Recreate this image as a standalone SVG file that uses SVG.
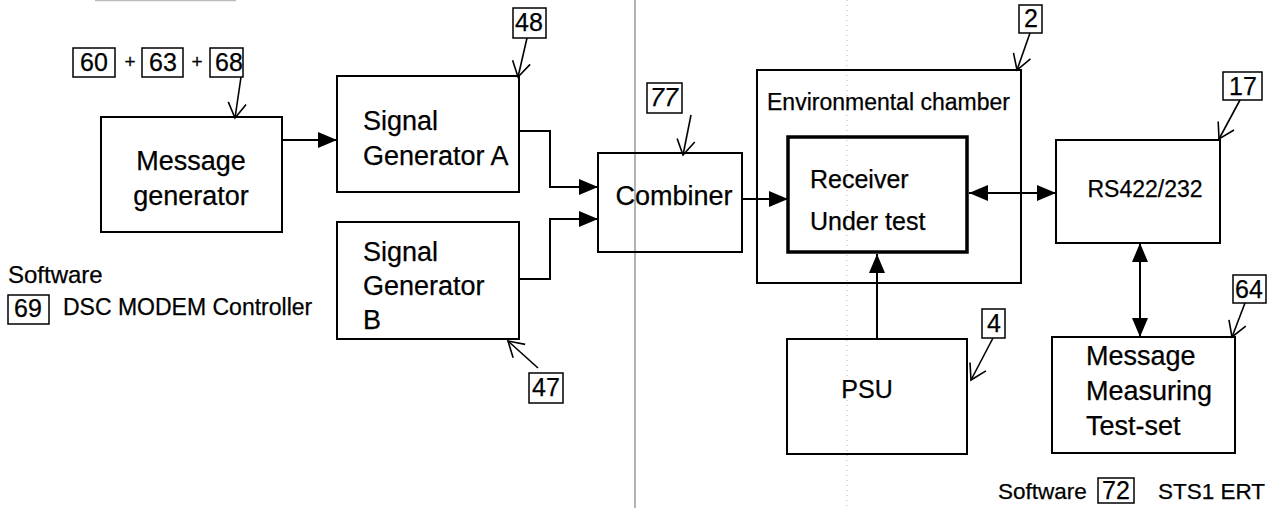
<svg xmlns="http://www.w3.org/2000/svg" width="1273" height="508" viewBox="0 0 1273 508">
  <style>
    .box { fill: none; stroke: #000; stroke-width: 2; }
    .thick { fill: none; stroke: #000; stroke-width: 3.5; }
    .ref { fill: none; stroke: #000; stroke-width: 1.5; }
    .lbl { font-family: "Liberation Sans", Arial, sans-serif; fill: #000; stroke: #000; stroke-width: 0.25; }
    .num { font-family: "Liberation Sans", Arial, sans-serif; font-size: 25px; fill: #000; stroke: #000; stroke-width: 0.25; text-anchor: middle; }
    .wire { fill: none; stroke: #000; stroke-width: 2; }
    .ptr { fill: none; stroke: #000; stroke-width: 1.6; }
  </style>
  <defs>
    <marker id="solid" markerUnits="userSpaceOnUse" markerWidth="22" markerHeight="18" refX="19" refY="8" orient="auto-start-reverse">
      <path d="M0,0 L19,8 L0,16 Z" fill="#000"/>
    </marker>
    <marker id="open" markerUnits="userSpaceOnUse" markerWidth="20" markerHeight="22" refX="16" refY="10" orient="auto">
      <path d="M1,1 L16,10 L1,19" fill="none" stroke="#000" stroke-width="1.6"/>
    </marker>
  </defs>

  <rect width="1273" height="508" fill="#fff"/>

  <!-- page marks -->
  <line x1="95" y1="0.5" x2="236" y2="0.5" stroke="#bbb" stroke-width="1.5"/>
  <line x1="635" y1="0" x2="635" y2="508" stroke="#9a9a9a" stroke-width="1.5"/>
  <line x1="847" y1="0" x2="847" y2="508" stroke="#bbb" stroke-width="1" stroke-dasharray="1 4"/>

  <!-- reference numbers 60 + 63 + 68 -->
  <g id="refs-msg">
    <rect class="ref" x="73" y="48" width="42" height="29"/>
    <text class="num" x="94" y="71">60</text>
    <text class="lbl" x="130" y="68" font-size="19" text-anchor="middle">+</text>
    <rect class="ref" x="142" y="48" width="41" height="29"/>
    <text class="num" x="163" y="71">63</text>
    <text class="lbl" x="197" y="68" font-size="19" text-anchor="middle">+</text>
    <rect class="ref" x="210" y="48" width="33" height="29"/>
    <text class="num" x="229" y="71">68</text>
  </g>

  <g id="message-generator">
    <rect class="box" x="101" y="117" width="181" height="115"/>
    <text class="lbl" x="191" y="170" font-size="27" text-anchor="middle">Message</text>
    <text class="lbl" x="191" y="205" font-size="27" text-anchor="middle">generator</text>
  </g>

  <g id="signal-generator-a">
    <rect class="box" x="337" y="76" width="182" height="116"/>
    <text class="lbl" x="363" y="130" font-size="27">Signal</text>
    <text class="lbl" x="363" y="165" font-size="27">Generator A</text>
    <rect class="ref" x="513" y="8" width="33" height="30"/>
    <text class="num" x="529" y="31">48</text>
  </g>

  <g id="signal-generator-b">
    <rect class="box" x="337" y="222" width="182" height="117"/>
    <text class="lbl" x="363" y="261" font-size="27">Signal</text>
    <text class="lbl" x="363" y="295" font-size="27">Generator</text>
    <text class="lbl" x="363" y="329" font-size="27">B</text>
    <rect class="ref" x="529" y="373" width="34" height="30"/>
    <text class="num" x="546" y="396">47</text>
  </g>

  <g id="combiner">
    <rect class="box" x="598" y="153" width="144" height="99"/>
    <text class="lbl" x="674" y="205" font-size="27" text-anchor="middle">Combiner</text>
    <rect class="ref" x="647" y="83" width="35" height="30"/>
    <text class="num" x="664" y="106" font-style="italic">77</text>
  </g>

  <g id="environmental-chamber">
    <rect class="box" x="757" y="70" width="264" height="213"/>
    <text class="lbl" x="767" y="110" font-size="23">Environmental chamber</text>
    <rect class="ref" x="1019" y="5" width="23" height="28"/>
    <text class="num" x="1031" y="27">2</text>
  </g>

  <g id="receiver">
    <rect class="thick" x="788" y="137" width="179" height="115"/>
    <text class="lbl" x="810" y="188" font-size="25">Receiver</text>
    <text class="lbl" x="810" y="230" font-size="25">Under test</text>
  </g>

  <g id="psu">
    <rect class="box" x="787" y="339" width="180" height="115"/>
    <text class="lbl" x="867" y="398" font-size="25" text-anchor="middle">PSU</text>
    <rect class="ref" x="982" y="309" width="23" height="29"/>
    <text class="num" x="994" y="332">4</text>
  </g>

  <g id="rs422">
    <rect class="box" x="1056" y="140" width="164" height="103"/>
    <text class="lbl" x="1145" y="197" font-size="23" text-anchor="middle">RS422/232</text>
    <rect class="ref" x="1223" y="72" width="39" height="28"/>
    <text class="num" x="1243" y="95">17</text>
  </g>

  <g id="message-measuring-test-set">
    <rect class="box" x="1052" y="337" width="183" height="116"/>
    <text class="lbl" x="1086" y="365" font-size="27">Message</text>
    <text class="lbl" x="1086" y="400" font-size="27">Measuring</text>
    <text class="lbl" x="1086" y="435" font-size="27">Test-set</text>
    <rect class="ref" x="1233" y="275" width="33" height="28"/>
    <text class="num" x="1249" y="298">64</text>
  </g>

  <g id="software-left">
    <text class="lbl" x="8" y="283" font-size="24">Software</text>
    <rect class="ref" x="8" y="295" width="41" height="29"/>
    <text class="num" x="28" y="317" font-size="24">69</text>
    <text class="lbl" x="63" y="315" font-size="23">DSC MODEM Controller</text>
  </g>

  <g id="software-right">
    <text class="lbl" x="998" y="499" font-size="22.5">Software</text>
    <rect class="ref" x="1098" y="478" width="36" height="25"/>
    <text class="num" x="1116" y="499" font-size="23">72</text>
    <text class="lbl" x="1158" y="499" font-size="22.5">STS1 ERT</text>
  </g>

  <!-- connectors -->
  <g id="connectors">
    <path class="wire" d="M282,140 H337" marker-end="url(#solid)"/>
    <path class="wire" d="M519,131 H550 V187 H598" marker-end="url(#solid)"/>
    <path class="wire" d="M519,279 H550 V219 H598" marker-end="url(#solid)"/>
    <path class="wire" d="M742,199 H788" marker-end="url(#solid)"/>
    <path class="wire" d="M969,193 H1056" marker-start="url(#solid)" marker-end="url(#solid)"/>
    <path class="wire" d="M877,339 V254" marker-end="url(#solid)"/>
    <path class="wire" d="M1140,243 V337" marker-start="url(#solid)" marker-end="url(#solid)"/>
    <!-- reference pointers -->
    <path class="ptr" d="M241,77 L235,118" marker-end="url(#open)"/>
    <path class="ptr" d="M527,38 L518,77" marker-end="url(#open)"/>
    <path class="ptr" d="M691,115 L683,155" marker-end="url(#open)"/>
    <path class="ptr" d="M1030,33 L1017,70" marker-end="url(#open)"/>
    <path class="ptr" d="M1240,100 L1219,139" marker-end="url(#open)"/>
    <path class="ptr" d="M1245,303 L1232,337" marker-end="url(#open)"/>
    <path class="ptr" d="M993,338 L971,380" marker-end="url(#open)"/>
    <path class="ptr" d="M538,368 L508,341" marker-end="url(#open)"/>
  </g>
</svg>
